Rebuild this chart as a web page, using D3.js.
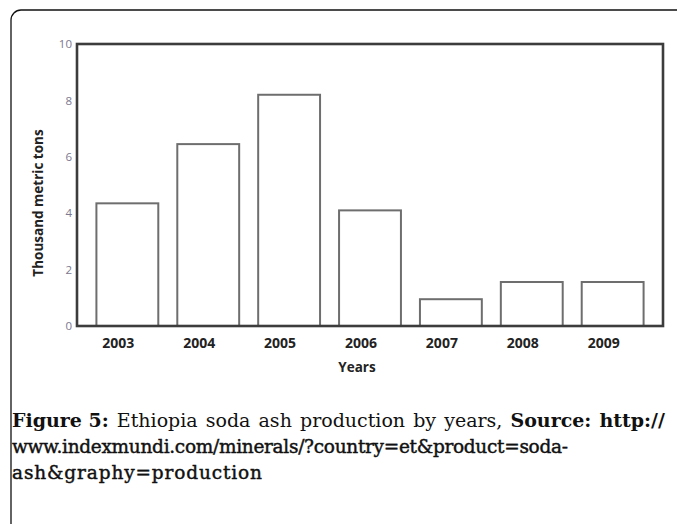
<!DOCTYPE html>
<html><head><meta charset="utf-8">
<script src="https://cdn.jsdelivr.net/npm/d3@7"></script>
<style>html,body{margin:0;padding:0;background:#fff;}svg{display:block;}</style>
</head><body>
<svg id="c" width="677" height="524"></svg>
<script>
const years = ["2003","2004","2005","2006","2007","2008","2009"];
const production = [4.35, 6.45, 8.2, 4.1, 0.95, 1.56, 1.56];
const yTicks = [0, 2, 4, 6, 8, 10];
const xTitle = "Years";
const yTitle = "Thousand metric tons";
const captionLine1 = [
  {t:"Figure 5:", b:true}, {t:"Ethiopia"}, {t:"soda"}, {t:"ash"}, {t:"production"},
  {t:"by"}, {t:"years,"}, {t:"Source:", b:true}, {t:"http://", b:true}
];
const captionLine2 = "www.indexmundi.com/minerals/?country=et&product=soda-";
const captionLine3 = "ash&graphy=production";

const svg = d3.select("#c");
// outer rounded frame
svg.append("rect").attr("x",11).attr("y",10).attr("width",720).attr("height",600)
  .attr("rx",10).attr("fill","none").attr("stroke","#111").attr("stroke-width",1.3);

const L=77, R=663, T=44, B=326;
const x = d3.scaleBand().domain(years).range([L,R]).paddingInner(0.235).paddingOuter(0.24);
const y = d3.scaleLinear().domain([0,10]).range([B,T]);

// bars
svg.append("g").selectAll("rect").data(years).join("rect")
  .attr("x", d=>x(d)).attr("width", x.bandwidth())
  .attr("y", (d,i)=>y(production[i])).attr("height",(d,i)=>y(0)-y(production[i]))
  .attr("fill","#fff").attr("stroke","#6e6e6e").attr("stroke-width",2);

// plot frame
svg.append("rect").attr("x",L).attr("y",T).attr("width",R-L).attr("height",B-T)
  .attr("fill","none").attr("stroke","#3c3c3c").attr("stroke-width",2.6);

// y axis labels
const yAxis = d3.axisLeft(y).tickValues(yTicks).tickSize(0).tickPadding(5);
const gy = svg.append("g").attr("transform",`translate(${L},0)`).call(yAxis);
gy.select(".domain").remove();
gy.selectAll("text").attr("font-family","Open Sans, sans-serif").attr("font-size",11.5)
  .attr("fill","#7c7890");

// x axis labels
const xAxis = d3.axisBottom(x).tickSize(0).tickPadding(12);
const gx = svg.append("g").attr("transform",`translate(-9,${B})`).call(xAxis);
gx.select(".domain").remove();
gx.selectAll("text").attr("font-family","Open Sans, sans-serif").attr("font-size",14)
  .attr("font-weight","bold").attr("fill","#222");

svg.append("text").attr("x",357).attr("y",372).attr("text-anchor","middle")
  .attr("font-family","Open Sans, sans-serif").attr("font-size",13.5).attr("font-weight","bold")
  .attr("fill","#222").text(xTitle);
svg.append("text").attr("transform",`translate(43,203) rotate(-90)`).attr("text-anchor","middle")
  .attr("font-family","Open Sans, sans-serif").attr("font-size",13.5).attr("font-weight","bold")
  .attr("fill","#222").text(yTitle);

// caption
const capFont = "DejaVu Serif, serif";
const cap = svg.append("g").attr("font-family",capFont).attr("fill","#111");
const left=12, right=665;
const words = cap.selectAll("text.w").data(captionLine1).join("text").attr("class","w")
  .attr("y",427).attr("font-size",19)
  .attr("font-weight",d=>d.b?"bold":"normal").text(d=>d.t);
const widths = []; words.each(function(){widths.push(this.getComputedTextLength());});
const gap = (right-left-d3.sum(widths))/(widths.length-1);
let cx=left; words.each(function(d,i){d3.select(this).attr("x",cx); cx+=widths[i]+gap;});
cap.append("text").attr("x",left).attr("y",453).attr("font-size",18.5)
  .attr("stroke","#111").attr("stroke-width",0.45)
  .attr("textLength",556).attr("lengthAdjust","spacing").text(captionLine2);
cap.append("text").attr("x",left).attr("y",479).attr("font-size",18.5)
  .attr("stroke","#111").attr("stroke-width",0.45)
  .attr("textLength",250).attr("lengthAdjust","spacing").text(captionLine3);
</script>
</body></html>
